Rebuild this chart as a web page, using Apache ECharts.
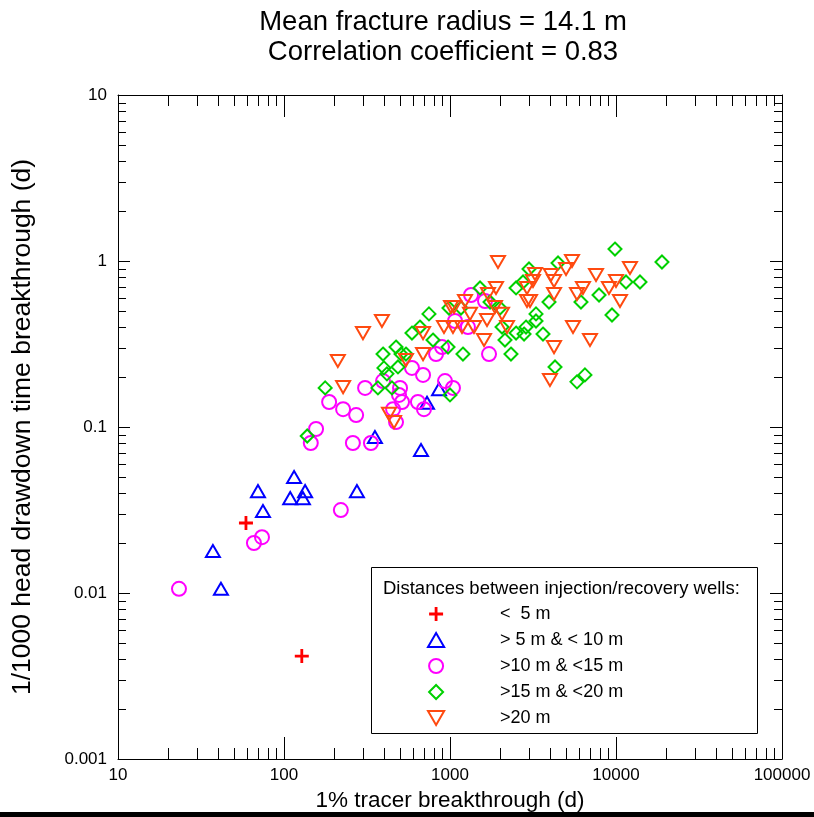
<!DOCTYPE html>
<html>
<head>
<meta charset="utf-8">
<script src="https://cdn.jsdelivr.net/npm/echarts@6/dist/echarts.min.js"></script>
<style>
html,body{margin:0;padding:0;background:#fff;}
#chart{width:814px;height:817px;}
</style>
</head>
<body>
<div id="chart"></div>
<script>
// 1% tracer breakthrough (d) , 1/1000 head drawdown time breakthrough (d)
var under5 = [[59,0.0264],[128,0.00417]];
var from5to10 = [[37.3,0.0179],[41.7,0.0106],[69.7,0.0411],[74.7,0.0312],[115,0.050],[134,0.0411],[109,0.0373],[130,0.0373],[275,0.0411],[353,0.0871],[669,0.0727],[727,0.140],[859,0.169]];
var from10to15 = [[23.3,0.0106],[65.9,0.0200],[73.7,0.0217],[220,0.0316],[145,0.0801],[156,0.0973],[260,0.0801],[334,0.0801],[187,0.1415],[227,0.128],[272,0.118],[308,0.172],[395,0.189],[500,0.172],[493,0.156],[514,0.1415],[454,0.128],[473,0.107],[590,0.227],[688,0.206],[641,0.1415],[697,0.128],[824,0.275],[895,0.303],[933,0.189],[1042,0.172],[1072,0.435],[1339,0.624],[1625,0.574],[1283,0.400],[1718,0.275]];
var from15to20 = [[138,0.0883],[177,0.172],[368,0.172],[447,0.172],[400,0.227],[417,0.209],[486,0.230],[395,0.275],[473,0.303],[507,0.275],[543,0.275],[590,0.368],[659,0.400],[747,0.480],[790,0.334],[973,0.303],[1000,0.156],[1197,0.275],[1165,0.521],[986,0.521],[1517,0.688],[1742,0.566],[2000,0.521],[2058,0.400],[2144,0.334],[2330,0.275],[2500,0.688],[2754,0.747],[2992,0.895],[2500,0.368],[2793,0.363],[2870,0.400],[3297,0.480],[3297,0.435],[3633,0.363],[4292,0.230],[4475,0.973],[3948,0.566],[6152,0.566],[7902,0.624],[11490,0.747],[13950,0.747],[9460,0.473],[9860,1.18],[18920,0.986],[5820,0.187],[6500,0.206]];
var over20 = [[1946,0.986],[389,0.435],[299,0.368],[211,0.250],[227,0.174],[543,0.253],[688,0.368],[688,0.275],[429,0.120],[460,0.107],[920,0.400],[1014,0.528],[1057,0.528],[1231,0.574],[1320,0.480],[1042,0.400],[1181,0.400],[1395,0.400],[1603,0.334],[1694,0.633],[1893,0.688],[1866,0.528],[2058,0.480],[1671,0.441],[2205,0.400],[2910,0.688],[2910,0.574],[3034,0.574],[5432,1.0],[5000,0.895],[3251,0.835],[3162,0.758],[4055,0.824],[4233,0.758],[7580,0.824],[12140,0.908],[10000,0.758],[9070,0.688],[10570,0.574],[6324,0.688],[5820,0.633],[4233,0.633],[5508,0.400],[6970,0.334],[4233,0.303],[4000,0.192]];

var seriesNames = ['<  5 m', '> 5 m & < 10 m', '>10 m & <15 m', '>15 m & <20 m', '>20 m'];
var xTickLabels = ['10', '100', '1000', '10000', '100000'];
var yTickLabels = ['0.001', '0.01', '0.1', '1', '10'];

// minor tick positions (2..9 in each decade)
var xMinor = [];
var yMinor = [];
for (var d = 10; d < 100000; d *= 10) {
	for (var k = 2; k <= 9; k++) xMinor.push([k * d, 1]);
}
for (var e = 0.001; e < 9; e *= 10) {
	for (var j = 2; j <= 9; j++) yMinor.push([100, +(j * e).toPrecision(3)]);
}

var crossPath = 'path://M4,0 H6 V4 H10 V6 H6 V10 H4 V6 H0 V4 H4 Z';
var upTri = 'path://M10,0 L20,17.32 L0,17.32 Z';
var downTri = 'path://M0,0 L20,0 L10,17.32 Z';
var diamondPath = 'path://M10,0 L20,10 L10,20 L0,10 Z';
var colors = ['#ff0000', '#0000ff', '#ff00ff', '#00d000', '#ff4a10'];

var myChart = echarts.init(document.getElementById('chart'));

function axisBase(pos, isX) {
	return {
		type: 'log',
		logBase: 10,
		position: pos,
		min: isX ? 10 : 0.001,
		max: isX ? 100000 : 10,
		splitLine: {show: false},
		axisLine: {show: true, onZero: false, lineStyle: {color: '#000', width: 1}},
		axisTick: {show: true, inside: true, length: isX ? 22 : 12, lineStyle: {color: '#000'}},
		axisLabel: {show: false}
	};
}

var xBottom = axisBase('bottom', true);
xBottom.axisLabel = {
	show: true, color: '#000', fontSize: 17, fontFamily: 'Liberation Sans', margin: 8,
	formatter: function (v, i) { return xTickLabels[i]; }
};
xBottom.name = '1% tracer breakthrough (d)';
xBottom.nameLocation = 'middle';
xBottom.nameGap = 29;
xBottom.nameTextStyle = {color: '#000', fontSize: 22.5, fontFamily: 'Liberation Sans'};

var yLeft = axisBase('left', false);
yLeft.axisLabel = {
	show: true, color: '#000', fontSize: 17, fontFamily: 'Liberation Sans', margin: 11,
	formatter: function (v, i) { return yTickLabels[i]; }
};
yLeft.name = '1/1000 head drawdown time breakthrough (d)';
yLeft.nameLocation = 'middle';
yLeft.nameGap = 82;
yLeft.nameTextStyle = {color: '#000', fontSize: 26.5, fontFamily: 'Liberation Sans'};

function minorTicks(isX) {
	return {
		type: 'custom',
		xAxisIndex: 0,
		yAxisIndex: 0,
		silent: true,
		clip: false,
		z: 5,
		data: isX ? xMinor : yMinor,
		renderItem: function (params, api) {
			var cs = params.coordSys;
			var st = {stroke: '#000', lineWidth: 1};
			if (isX) {
				var px = Math.round(api.coord([api.value(0), 1])[0]) + 0.5;
				return {type: 'group', children: [
					{type: 'line', shape: {x1: px, y1: cs.y + cs.height, x2: px, y2: cs.y + cs.height - 11}, style: st},
					{type: 'line', shape: {x1: px, y1: cs.y, x2: px, y2: cs.y + 11}, style: st}
				]};
			}
			var py = Math.round(api.coord([100, api.value(1)])[1]) + 0.5;
			return {type: 'group', children: [
				{type: 'line', shape: {x1: cs.x, y1: py, x2: cs.x + 8, y2: py}, style: st},
				{type: 'line', shape: {x1: cs.x + cs.width, y1: py, x2: cs.x + cs.width - 8, y2: py}, style: st}
			]};
		}
	};
}

function scatter(i, data, symbol, size) {
	var filled = i === 0;
	return {
		name: seriesNames[i],
		type: 'scatter',
		data: data,
		symbol: symbol,
		symbolSize: size,
		symbolKeepAspect: true,
		z: 10,
		itemStyle: filled ? {color: colors[i], opacity: 1} :
			{color: 'rgba(255,255,255,0)', borderColor: colors[i], borderWidth: 2, opacity: 1}
	};
}

var legendData = [];
var legendIcons = [crossPath, upTri, 'circle', diamondPath, downTri];
for (var n = 0; n < seriesNames.length; n++) {
	legendData.push({
		name: seriesNames[n],
		icon: legendIcons[n],
		itemStyle: n === 0 ? {color: colors[n], borderWidth: 0} :
			{color: 'rgba(255,255,255,0)', borderColor: colors[n], borderWidth: 2}
	});
}

var option = {
	animation: false,
	backgroundColor: '#fff',
	title: {
		text: 'Mean fracture radius = 14.1 m\nCorrelation coefficient = 0.83',
		left: 438,
		top: 2,
		textAlign: 'center',
		textStyle: {color: '#000', fontSize: 27.5, fontWeight: 'normal', fontFamily: 'Liberation Sans', lineHeight: 30}
	},
	grid: {left: 118, top: 95, width: 664, height: 664, containLabel: false, outerBoundsMode: 'none'},
	xAxis: [xBottom, axisBase('top', true)],
	yAxis: [yLeft, axisBase('right', false)],
	legend: {
		orient: 'vertical',
		left: 427,
		top: 605,
		padding: 0,
		itemWidth: 118,
		itemHeight: 14,
		itemGap: 8,
		selectedMode: false,
		data: legendData,
		textStyle: {color: '#000', fontSize: 18, fontFamily: 'Liberation Sans', lineHeight: 18}
	},
	graphic: [
		{type: 'rect', left: 371, top: 567, z: 1, shape: {width: 386, height: 166}, style: {fill: '#fff', stroke: '#000', lineWidth: 1}},
		{type: 'text', left: 383, top: 579, z: 2, style: {text: 'Distances between injection/recovery wells:', fill: '#000', fontSize: 18.5, fontFamily: 'Liberation Sans'}},
		{type: 'rect', left: 0, top: 812, shape: {width: 814, height: 5}, style: {fill: '#000'}}
	],
	series: [
		minorTicks(true),
		minorTicks(false),
		scatter(0, under5, crossPath, 14),
		scatter(1, from5to10, upTri, 14),
		scatter(2, from10to15, 'circle', 14),
		scatter(3, from15to20, diamondPath, 13),
		scatter(4, over20, downTri, 14)
	]
};
myChart.setOption(option);
</script>
</body>
</html>
